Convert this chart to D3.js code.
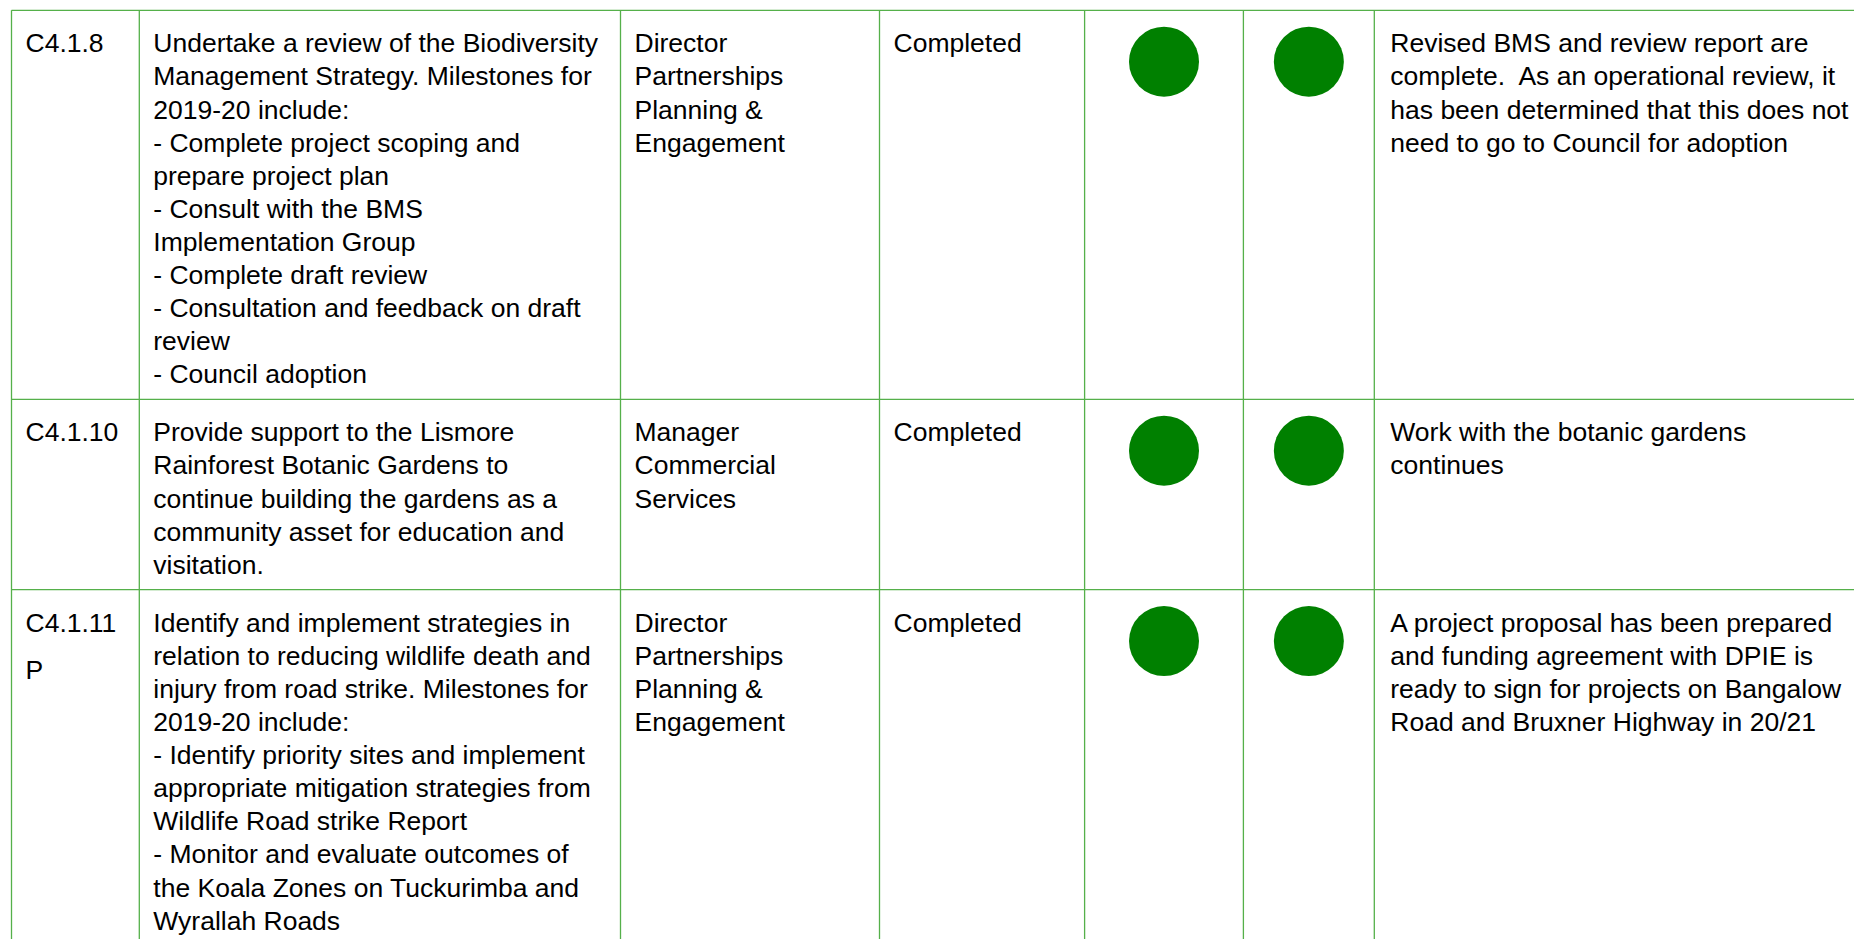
<!DOCTYPE html>
<html>
<head>
<meta charset="utf-8">
<script src="https://cdn.jsdelivr.net/npm/d3@7"></script>
<style>
  html, body { margin: 0; padding: 0; background: #ffffff; }
  svg { display: block; }
  text { font-family: "Liberation Sans", Arial, sans-serif; fill: #000; white-space: pre; }
</style>
</head>
<body>
<div id="chart"></div>
<script>
// ---------- data ----------
const ids = [["C4.1.8"], ["C4.1.10"], ["C4.1.11", "P"]];

const descriptions = [
  ["Undertake a review of the Biodiversity", "Management Strategy. Milestones for", "2019-20 include:",
   "- Complete project scoping and", "prepare project plan", "- Consult with the BMS",
   "Implementation Group", "- Complete draft review", "- Consultation and feedback on draft",
   "review", "- Council adoption"],
  ["Provide support to the Lismore", "Rainforest Botanic Gardens to", "continue building the gardens as a",
   "community asset for education and", "visitation."],
  ["Identify and implement strategies in", "relation to reducing wildlife death and",
   "injury from road strike. Milestones for", "2019-20 include:", "- Identify priority sites and implement",
   "appropriate mitigation strategies from", "Wildlife Road strike Report",
   "- Monitor and evaluate outcomes of", "the Koala Zones on Tuckurimba and", "Wyrallah Roads"]
];

const responsible = [
  ["Director", "Partnerships", "Planning &", "Engagement"],
  ["Manager", "Commercial", "Services"],
  ["Director", "Partnerships", "Planning &", "Engagement"]
];

const statuses = ["Completed", "Completed", "Completed"];

const trafficA = ["green", "green", "green"];
const trafficB = ["green", "green", "green"];

const comments = [
  ["Revised BMS and review report are", "complete.  As an operational review, it",
   "has been determined that this does not", "need to go to Council for adoption"],
  ["Work with the botanic gardens", "continues"],
  ["A project proposal has been prepared", "and funding agreement with DPIE is",
   "ready to sign for projects on Bangalow", "Road and Bruxner Highway in 20/21"]
];

const columns = ["id", "description", "responsible", "status", "trafficA", "trafficB", "comment"];

// ---------- layout ----------
const W = 1854, H = 939;
const colEdges = [11.5, 139.3, 620.5, 879.5, 1084.6, 1243.4, 1374.3, 2000];
const tableTop = 10.3;
const fontSize = 26.5;
const lineH = 33.1;
const idLineH = 47.6;
const firstBaseline = 42;
const bottomPad = 16;
const circleR = 35;
const circleDy = 51.4;
const lineColor = "#55b04a";
const colorMap = { green: "#008000", amber: "#ffc000", red: "#e00000" };

const rows = ids.map((id, i) => ({
  id, desc: descriptions[i], resp: responsible[i], status: [statuses[i]],
  a: trafficA[i], b: trafficB[i], comment: comments[i]
}));

rows.forEach(r => {
  const n = Math.max(r.desc.length, r.resp.length, r.comment.length, 1);
  r.h = firstBaseline + (n - 1) * lineH + bottomPad;
});
let acc = tableTop;
rows.forEach(r => { r.y = acc; acc += r.h; });

const colIndex = d3.scaleOrdinal().domain(columns).range(d3.range(columns.length));
const x0 = c => colEdges[colIndex(c)];
const xMid = c => (colEdges[colIndex(c)] + colEdges[colIndex(c) + 1]) / 2;

const svg = d3.select("#chart").append("svg").attr("width", W).attr("height", H);
svg.append("rect").attr("width", W).attr("height", H).attr("fill", "#fff");

// grid lines
const grid = svg.append("g").attr("stroke", lineColor).attr("stroke-width", 1.3).attr("fill", "none");
const rowEdges = [tableTop].concat(rows.map(r => r.y + r.h));
grid.selectAll("line.h").data(rowEdges).join("line").attr("class", "h")
  .attr("x1", colEdges[0]).attr("x2", W + 10).attr("y1", d => d).attr("y2", d => d);
grid.selectAll("line.v").data(colEdges.slice(0, -1)).join("line").attr("class", "v")
  .attr("x1", d => d).attr("x2", d => d).attr("y1", tableTop).attr("y2", acc);

// text cells
const textCols = [
  { key: "id", field: "id", lh: idLineH, pad: 14 },
  { key: "description", field: "desc", lh: lineH, pad: 14 },
  { key: "responsible", field: "resp", lh: lineH, pad: 14 },
  { key: "status", field: "status", lh: lineH, pad: 14 },
  { key: "comment", field: "comment", lh: lineH, pad: 16 }
];

const rowG = svg.selectAll("g.row").data(rows).join("g").attr("class", "row");

textCols.forEach(tc => {
  rowG.append("text")
    .attr("font-size", fontSize)
    .attr("x", x0(tc.key) + tc.pad)
    .attr("y", d => d.y + firstBaseline)
    .selectAll("tspan").data(d => d[tc.field]).join("tspan")
    .attr("x", x0(tc.key) + tc.pad)
    .attr("dy", (d, i) => i === 0 ? 0 : tc.lh)
    .text(d => d);
});

// traffic light circles
[["trafficA", "a"], ["trafficB", "b"]].forEach(([col, f]) => {
  rowG.append("circle")
    .attr("cx", xMid(col))
    .attr("cy", d => d.y + circleDy)
    .attr("r", circleR)
    .attr("fill", d => colorMap[d[f]]);
});
</script>
</body>
</html>
